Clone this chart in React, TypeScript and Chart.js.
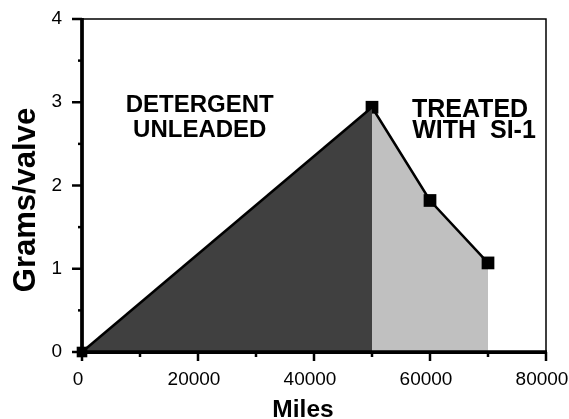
import React, { useEffect, useRef } from 'react';
import { Chart, registerables } from 'chart.js';

Chart.register(...registerables);

// ---- data ----
const detergentMiles = [0, 50000];
const detergentGrams = [0, 2.94];
const treatedMiles = [50000, 60000, 70000];
const treatedGrams = [2.94, 1.82, 1.07];
const xTickValues = [0, 20000, 40000, 60000, 80000];
const yTickValues = [0, 1, 2, 3, 4];
const detergentLabel = ['DETERGENT', 'UNLEADED'];
const treatedLabel = ['TREATED', 'WITH  SI-1'];
const xTitle = 'Miles';
const yTitle = 'Grams/valve';

const FAMILY = '"Liberation Sans", Arial, Helvetica, sans-serif';

const decorPlugin = {
  id: 'decor',
  afterDraw(chart: any) {
    const { ctx, chartArea, scales } = chart;
    const xs = scales.x;
    const ys = scales.y;
    const L = chartArea.left;
    const B = chartArea.bottom;
    ctx.save();
    // thin frame top/right
    ctx.strokeStyle = '#000';
    ctx.lineWidth = 1.5;
    ctx.beginPath();
    ctx.moveTo(L, chartArea.top);
    ctx.lineTo(chartArea.right, chartArea.top);
    ctx.lineTo(chartArea.right, B);
    ctx.stroke();
    // thick axes
    ctx.lineWidth = 3.75;
    ctx.beginPath();
    ctx.moveTo(L, chartArea.top - 1);
    ctx.lineTo(L, B);
    ctx.moveTo(L - 1.9, B);
    ctx.lineTo(chartArea.right + 1, B);
    ctx.stroke();
    // y ticks (major + minor)
    ctx.lineWidth = 2.5;
    const yStep = 0.5;
    for (let v = ys.min; v <= ys.max + 1e-9; v += yStep) {
      const py = ys.getPixelForValue(v);
      const major = Math.abs(v - Math.round(v)) < 1e-9;
      const len = major ? 10 : 4;
      ctx.beginPath();
      ctx.moveTo(L - len, py);
      ctx.lineTo(L, py);
      ctx.stroke();
    }
    // x ticks
    const xStep = 10000;
    for (let v = xs.min; v <= xs.max + 1e-9; v += xStep) {
      const px = xs.getPixelForValue(v);
      const major = Math.round(v / xStep) % 2 === 0;
      const len = major ? 9 : 5;
      ctx.beginPath();
      ctx.moveTo(px, B);
      ctx.lineTo(px, B + len);
      ctx.stroke();
    }
    // annotations
    ctx.fillStyle = '#000';
    ctx.textAlign = 'center';
    ctx.textBaseline = 'alphabetic';
    ctx.font = `bold 24px ${FAMILY}`;
    const dx = xs.getPixelForValue(20300);
    ctx.fillText(detergentLabel[0], dx, ys.getPixelForValue(2.88));
    ctx.fillText(detergentLabel[1], dx, ys.getPixelForValue(2.58));
    ctx.font = `bold 25px ${FAMILY}`;
    const tx = xs.getPixelForValue(66900);
    ctx.fillText(treatedLabel[0], tx, ys.getPixelForValue(2.82));
    ctx.fillText(treatedLabel[1], tx + 4, ys.getPixelForValue(2.57));
    // axis titles
    ctx.font = `bold 24.5px ${FAMILY}`;
    ctx.fillText(xTitle, (L + chartArea.right) / 2 - 11, 417);
    ctx.save();
    ctx.translate(35, 200);
    ctx.rotate(-Math.PI / 2);
    ctx.font = `bold 31px ${FAMILY}`;
    ctx.fillText(yTitle, 0, 0);
    ctx.restore();
    ctx.restore();
  },
};

export default function App() {
  const ref = useRef<HTMLCanvasElement | null>(null);
  useEffect(() => {
    if (!ref.current) return;
    const chart = new Chart(ref.current, {
      type: 'line',
      data: {
        datasets: [
          {
            data: detergentMiles.map((x, i) => ({ x, y: detergentGrams[i] })),
            borderColor: '#000',
            borderWidth: 2.5,
            backgroundColor: '#404040',
            fill: 'origin',
            tension: 0,
            pointStyle: 'rect',
            pointRadius: [7.5, 0],
            pointBackgroundColor: '#000',
            pointBorderColor: '#000',
            pointBorderWidth: 0,
            clip: false,
          } as any,
          {
            data: treatedMiles.map((x, i) => ({ x, y: treatedGrams[i] })),
            borderColor: '#000',
            borderWidth: 2.5,
            backgroundColor: '#c0c0c0',
            fill: 'origin',
            tension: 0,
            pointStyle: 'rect',
            pointRadius: 9,
            pointBackgroundColor: '#000',
            pointBorderColor: '#000',
            pointBorderWidth: 0,
            clip: false,
          } as any,
        ],
      },
      options: {
        responsive: false,
        animation: false,
        devicePixelRatio: 1,
        layout: { padding: { top: 19, right: 23, left: 0, bottom: 0 } },
        plugins: { legend: { display: false }, tooltip: { enabled: false } },
        scales: {
          x: {
            type: 'linear',
            min: 0,
            max: 80000,
            afterBuildTicks: (s: any) => {
              s.ticks = xTickValues.map((v) => ({ value: v }));
            },
            ticks: {
              color: '#000',
              font: { size: 19, family: FAMILY },
              padding: 16,
              maxRotation: 0,
              autoSkip: false,
              labelOffset: -4,
              callback: (v: any) => String(v),
            },
            grid: { display: false, drawTicks: false },
            border: { display: false },
            afterFit: (s: any) => {
              s.height = 67;
              s.paddingLeft = 0;
              s.paddingRight = 0;
              s.paddingTop = 0;
              s.paddingBottom = 0;
            },
          },
          y: {
            type: 'linear',
            min: 0,
            max: 4,
            afterBuildTicks: (s: any) => {
              s.ticks = yTickValues.map((v) => ({ value: v }));
            },
            ticks: {
              color: '#000',
              font: { size: 19, family: FAMILY },
              padding: 20,
              callback: (v: any) => String(v),
            },
            grid: { display: false, drawTicks: false },
            border: { display: false },
            afterFit: (s: any) => {
              s.width = 82;
              s.paddingLeft = 0;
              s.paddingRight = 0;
              s.paddingTop = 0;
              s.paddingBottom = 0;
            },
          },
        },
      } as any,
      plugins: [decorPlugin],
    });
    return () => chart.destroy();
  }, []);
  return (
    <div style={{ position: 'fixed', left: 0, top: 0, width: 569, height: 419, background: '#fff' }}>
      <canvas ref={ref} width={569} height={419} style={{ display: 'block' }} />
    </div>
  );
}
